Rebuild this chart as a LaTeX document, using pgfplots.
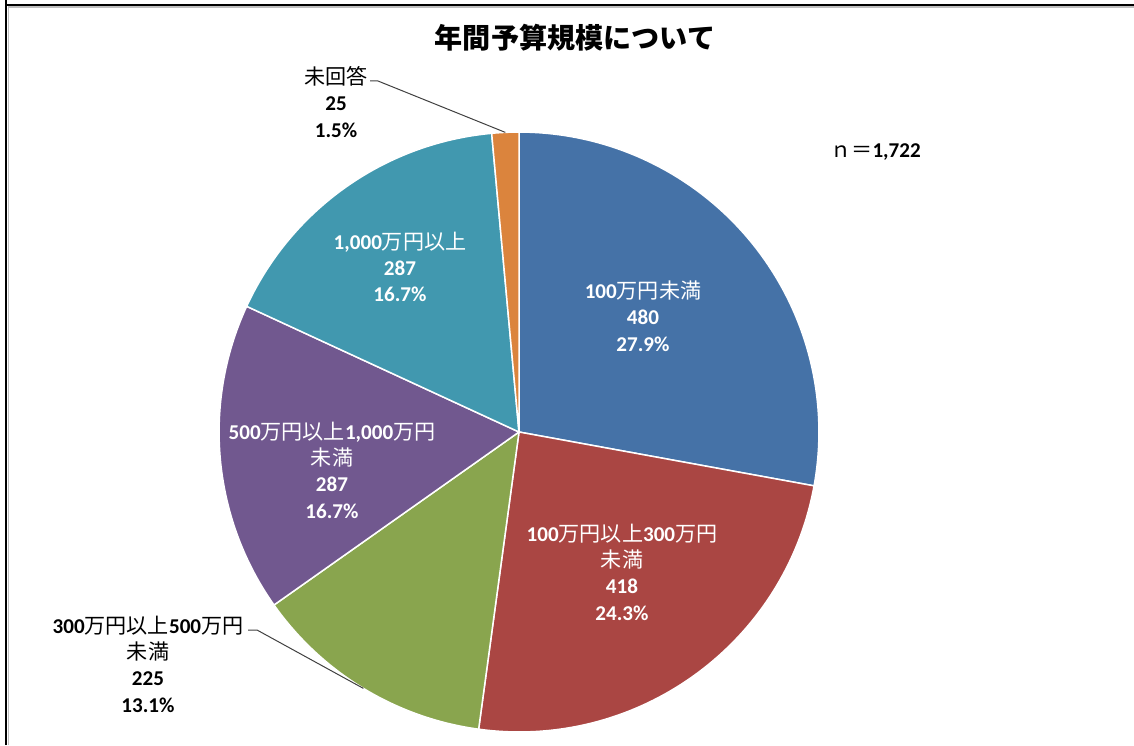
\documentclass[border=0pt]{standalone}
\usepackage{pgfplots}
\pgfplotsset{compat=1.18}
\usepackage{pgfplotstable}
\usetikzlibrary{calc}
\usepackage{fontspec}
\setmainfont{Carlito}
\newfontfamily\cjk{Noto Sans CJK JP}
\newcommand{\jp}[1]{{\cjk #1}}
\newcommand{\lbl}{\fontsize{12}{15}\selectfont}
\definecolor{c0}{HTML}{4572A7}
\definecolor{c1}{HTML}{AA4643}
\definecolor{c2}{HTML}{89A54E}
\definecolor{c3}{HTML}{71588F}
\definecolor{c4}{HTML}{4198AF}
\definecolor{c5}{HTML}{DB843D}
\definecolor{leader}{HTML}{404040}

\pgfplotstableread{
cat count
1 480
2 418
3 225
4 287
5 287
6 25
}\budget

\begin{document}
\begin{tikzpicture}
% totals and cumulative angles from the table
\gdef\total{0}
\foreach \i in {0,...,5}{%
  \pgfplotstablegetelem{\i}{count}\of\budget
  \pgfmathsetmacro\tmp{\total+\pgfplotsretval}%
  \xdef\total{\tmp}%
}
\gdef\cumsum{0}
\foreach \i in {0,...,5}{%
  \pgfplotstablegetelem{\i}{count}\of\budget
  \pgfmathsetmacro\sa{90-360*(\cumsum/\total)}%
  \pgfmathsetmacro\newcum{\cumsum+\pgfplotsretval}%
  \pgfmathsetmacro\ea{90-360*(\newcum/\total)}%
  \pgfmathsetmacro\ma{(\sa+\ea)/2}%
  \expandafter\xdef\csname sa\i\endcsname{\sa}%
  \expandafter\xdef\csname ea\i\endcsname{\ea}%
  \expandafter\xdef\csname ma\i\endcsname{\ma}%
  \xdef\cumsum{\newcum}%
}
\begin{axis}[hide axis, x=0.02cm, y=0.02cm, xmin=0, xmax=1134, ymin=0, ymax=745, clip=false]
\coordinate (ll) at (axis cs:0,0);
\coordinate (ur) at (axis cs:1134,745);
% frame
\draw[black, line width=0.05cm] (axis cs:6,745) -- (axis cs:6,740) -- (axis cs:1134,740);
\draw[black, line width=0.05cm] (axis cs:6,0) -- (axis cs:6,740);
\draw[gray!50, line width=0.04cm] (axis cs:8.5,0) -- (axis cs:8.5,737.5) -- (axis cs:1134,737.5);
% pie slices
\pgfplotsinvokeforeach{0,...,5}{
  \fill[c#1, draw=white, line width=0.03cm] (axis cs:519,313) -- ++(\csname sa#1\endcsname:6cm)
     arc[start angle=\csname sa#1\endcsname, end angle=\csname ea#1\endcsname, radius=6cm] -- cycle;
}
% title and n
\node[font={\fontsize{16}{19}\selectfont\cjk\bfseries}] at (axis cs:575,707) {年間予算規模について};
\node[font=\lbl, anchor=west, inner sep=0] at (axis cs:830,593) {\jp{ｎ＝}\textbf{1,722}};
% inside labels
\node[font=\lbl, text=white, align=center] at (axis cs:643,429)
  {\textbf{100}\jp{万円未満}\\\textbf{480}\\\textbf{27.9\%}};
\node[font=\lbl, text=white, align=center] at (axis cs:622,173)
  {\textbf{100}\jp{万円以上}\textbf{300}\jp{万円}\\\jp{未満}\\\textbf{418}\\\textbf{24.3\%}};
\node[font=\lbl, text=white, align=center] at (axis cs:332,275)
  {\textbf{500}\jp{万円以上}\textbf{1,000}\jp{万円}\\\jp{未満}\\\textbf{287}\\\textbf{16.7\%}};
\node[font=\lbl, text=white, align=center] at (axis cs:400,478)
  {\textbf{1,000}\jp{万円以上}\\\textbf{287}\\\textbf{16.7\%}};
% outside labels
\node[font=\lbl, text=black, align=center] at (axis cs:148,81)
  {\textbf{300}\jp{万円以上}\textbf{500}\jp{万円}\\\jp{未満}\\\textbf{225}\\\textbf{13.1\%}};
\node[font=\lbl, text=black, align=center] at (axis cs:336,643)
  {\jp{未回答}\\\textbf{25}\\\textbf{1.5\%}};
% leader lines
\draw[leader, line width=0.02cm] (axis cs:248,115) -- (axis cs:257,115) -- ($(axis cs:519,313)+(\csname ma2\endcsname:6cm)$);
\draw[leader, line width=0.02cm] (axis cs:370,664) -- (axis cs:378,664) -- ($(axis cs:519,313)+(\csname ma5\endcsname:6cm)$);
\end{axis}
\pgfresetboundingbox
\path[use as bounding box] (ll) rectangle (ur);
\end{tikzpicture}
\end{document}
